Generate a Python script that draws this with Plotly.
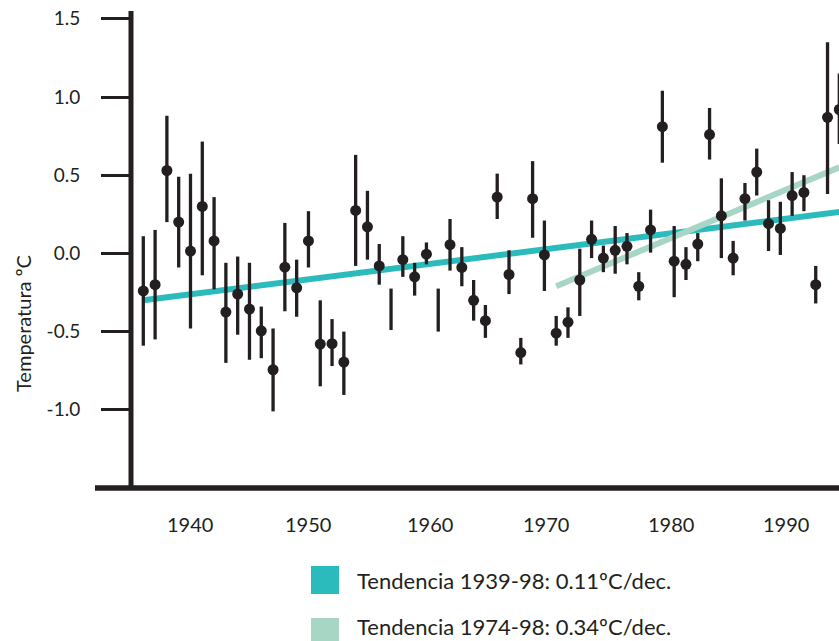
import plotly.graph_objects as go

# ---------------- data ----------------
years = list(range(1939, 1999))
anomaly = [-0.24, -0.20, 0.53, 0.20, 0.015, 0.30, 0.08, -0.375, -0.26, -0.356,
           -0.495, -0.744, -0.088, -0.22, 0.08, -0.58, -0.577, -0.695, 0.275, 0.17,
           -0.08, -0.357, -0.04, -0.15, -0.005, -0.362, 0.056, -0.09, -0.30, -0.43,
           0.36, -0.135, -0.634, 0.35, -0.01, -0.51, -0.44, -0.17, 0.09, -0.03,
           0.02, 0.045, -0.21, 0.15, 0.81, -0.05, -0.07, 0.06, 0.76, 0.24,
           -0.03, 0.35, 0.52, 0.19, 0.16, 0.37, 0.39, -0.20, 0.87, 0.92]
upper = [0.11, 0.15, 0.88, 0.49, 0.51, 0.715, 0.36, -0.06, -0.02, -0.06,
         -0.34, -0.48, 0.195, -0.04, 0.27, -0.30, -0.42, -0.50, 0.63, 0.40,
         0.06, -0.225, 0.11, -0.06, 0.07, -0.225, 0.22, 0.04, -0.17, -0.33,
         0.51, 0.02, -0.54, 0.59, 0.21, -0.40, -0.345, 0.03, 0.21, 0.05,
         0.175, 0.13, -0.12, 0.28, 1.04, 0.175, 0.04, 0.13, 0.93, 0.48,
         0.08, 0.45, 0.67, 0.34, 0.33, 0.52, 0.50, -0.08, 1.35, 1.15]
lower = [-0.59, -0.55, 0.20, -0.09, -0.48, -0.14, -0.23, -0.70, -0.52, -0.68,
         -0.67, -1.01, -0.37, -0.405, -0.09, -0.85, -0.72, -0.905, -0.08, -0.04,
         -0.20, -0.49, -0.15, -0.27, -0.07, -0.50, -0.11, -0.21, -0.43, -0.54,
         0.22, -0.26, -0.71, 0.10, -0.24, -0.59, -0.54, -0.40, -0.03, -0.12,
         -0.13, -0.07, -0.30, 0.005, 0.58, -0.28, -0.17, -0.05, 0.60, -0.03,
         -0.14, 0.21, 0.37, 0.015, -0.01, 0.24, 0.27, -0.32, 0.38, 0.70]
no_dot_years = [1960, 1964]   # error bar drawn without its dot

trend1_years = [1939, 1998]
trend1_values = [-0.30, 0.265]
trend2_years = [1974, 1998]
trend2_values = [-0.21, 0.55]
trend_labels = ["Tendencia 1939-98: 0.11ºC/dec.", "Tendencia 1974-98: 0.34ºC/dec."]

y_tick_values = [1.5, 1.0, 0.5, 0.0, -0.5, -1.0]
y_tick_text = ["1.5", "1.0", "0.5", "0.0", "-0.5", "-1.0"]
x_tick_text = ["1940", "1950", "1960", "1970", "1980", "1990"]
x_tick_pos = [1943.0, 1953.0, 1963.3, 1973.1, 1983.7, 1993.5]
y_title = "Temperatura ºC"

# ---------------- styles / layout geometry ----------------
DARK = "#231f20"
TEAL = "#2bbbbd"
MINT = "#a8d6c5"
FONT = "Lato"
W, H = 839, 641
L, R, T, B = 131, 0, 11, 153
PW, PH = W - L - R, H - T - B


def px(xp):
    return (xp - L) / PW


def py(yp):
    return (H - B - yp) / PH


def err(vals, hi, lo):
    return ([h - v for v, h in zip(vals, hi)], [v - l for v, l in zip(vals, lo)])


dot_idx = [i for i, y in enumerate(years) if y not in no_dot_years]
bar_idx = [i for i, y in enumerate(years) if y in no_dot_years]

fig = go.Figure()

fig.add_trace(go.Scatter(x=trend1_years, y=trend1_values, mode="lines",
                         line=dict(color=TEAL, width=6), name=trend_labels[0],
                         showlegend=False))
fig.add_trace(go.Scatter(x=trend2_years, y=trend2_values, mode="lines",
                         line=dict(color=MINT, width=6), name=trend_labels[1],
                         showlegend=False))

dv = [anomaly[i] for i in dot_idx]
e_hi, e_lo = err(dv, [upper[i] for i in dot_idx], [lower[i] for i in dot_idx])
fig.add_trace(go.Scatter(
    x=[years[i] for i in dot_idx], y=dv, mode="markers",
    marker=dict(size=11, color=DARK),
    error_y=dict(type="data", symmetric=False, array=e_hi, arrayminus=e_lo,
                 color=DARK, thickness=3.3, width=0),
    showlegend=False))

bv = [anomaly[i] for i in bar_idx]
b_hi, b_lo = err(bv, [upper[i] for i in bar_idx], [lower[i] for i in bar_idx])
fig.add_trace(go.Scatter(
    x=[years[i] for i in bar_idx], y=bv, mode="markers",
    marker=dict(size=1, color="rgba(0,0,0,0)"),
    error_y=dict(type="data", symmetric=False, array=b_hi, arrayminus=b_lo,
                 color=DARK, thickness=3.3, width=0),
    showlegend=False))

# axis ranges from pixel geometry (1939 at x=143.3 px, 11.797 px per year)
x0_year = 1939 + (L - 143.3) / 11.797
x1_year = 1939 + (W - R - 143.3) / 11.797
y_bottom = -1.5
y_top = y_bottom + PH / 156.4

shapes = [
    dict(type="line", xref="paper", yref="paper", x0=0, x1=0, y0=0, y1=1,
         line=dict(color=DARK, width=5)),
    dict(type="line", xref="paper", yref="paper", x0=px(95), x1=1.01, y0=0, y1=0,
         line=dict(color=DARK, width=5.5)),
    dict(type="rect", xref="paper", yref="paper", x0=px(311), x1=px(339),
         y0=py(594), y1=py(566), fillcolor=TEAL, line=dict(width=0)),
    dict(type="rect", xref="paper", yref="paper", x0=px(311), x1=px(339),
         y0=py(646), y1=py(618), fillcolor=MINT, line=dict(width=0)),
]

annotations = []
for t, xv in zip(x_tick_text, x_tick_pos):
    annotations.append(dict(x=xv, xref="x", y=py(523.5), yref="paper", text=t,
                            showarrow=False, xanchor="center", yanchor="middle",
                            font=dict(family=FONT, size=20, color=DARK)))
annotations.append(dict(x=px(355), y=py(580), xref="paper", yref="paper",
                        text=trend_labels[0], showarrow=False, xanchor="left",
                        yanchor="middle", font=dict(family=FONT, size=22, color=DARK)))
annotations.append(dict(x=px(355), y=py(627), xref="paper", yref="paper",
                        text=trend_labels[1], showarrow=False, xanchor="left",
                        yanchor="middle", font=dict(family=FONT, size=22, color=DARK)))
annotations.append(dict(x=px(23), y=py(324), xref="paper", yref="paper",
                        text=y_title, showarrow=False, textangle=-90,
                        xanchor="center", yanchor="middle",
                        font=dict(family=FONT, size=20, color=DARK)))

fig.update_layout(
    width=W, height=H,
    margin=dict(l=L, r=R, t=T, b=B, pad=0),
    paper_bgcolor="white", plot_bgcolor="white",
    showlegend=False,
    xaxis=dict(range=[x0_year, x1_year], showgrid=False, zeroline=False,
               showline=False, showticklabels=False, ticks=""),
    yaxis=dict(range=[y_bottom, y_top], showgrid=False, zeroline=False,
               showline=False, tickmode="array", tickvals=y_tick_values,
               ticktext=y_tick_text, ticks="outside", ticklen=29, tickwidth=3,
               tickcolor=DARK, ticklabelstandoff=17,
               tickfont=dict(family=FONT, size=19, color=DARK)),
    shapes=shapes,
    annotations=annotations,
)

fig.write_html("out.html", config={"displayModeBar": False})
